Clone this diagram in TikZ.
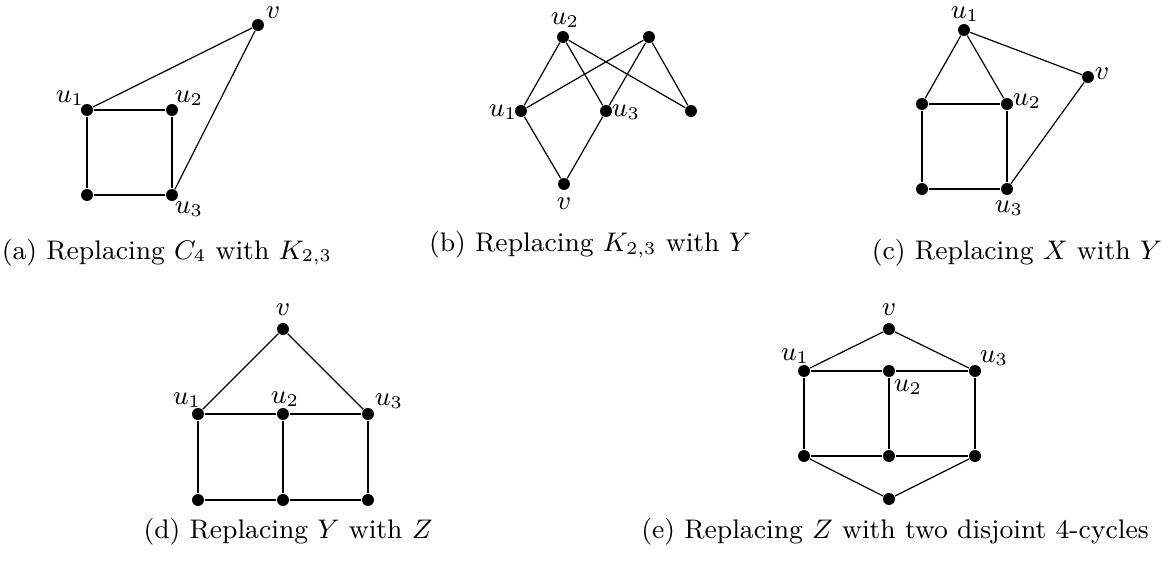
\documentclass[tikz,border=0pt]{standalone}
\begin{document}
\begin{tikzpicture}[x=0.33474pt,y=-0.33474pt,
  vtx/.style={circle,fill=black,inner sep=0pt,minimum size=4pt},
  edge/.style={line width=0.4pt},
  lab/.style={inner sep=0pt,font=\small},
  captxt/.style={inner sep=0pt,font=\small,anchor=base}]
\useasboundingbox (0,0) rectangle (1162,561);
% ---------- (a)
\node[vtx] (av) at (258,25) {};
\node[vtx] (au1) at (87,110) {};
\node[vtx] (au2) at (172,110) {};
\node[vtx] (abl) at (87,195) {};
\node[vtx] (au3) at (172,195) {};
\draw[edge] (au1) -- (au2) -- (au3) -- (abl) -- (au1);
\draw[edge] (au1) -- (av) -- (au3);
\node[lab] (lav) at (273,13) {$v$};
\node[lab] (lau1) at (70,98) {$u_1$};
\node[lab] (lau2) at (189,98) {$u_2$};
\node[lab] (lau3) at (189,209) {$u_3$};
\node[captxt] (capa) at (167,259) {(a) Replacing $C_4$ with $K_{2,3}$};
% ---------- (b)
\node[vtx] (bu2) at (563,37) {};
\node[vtx] (btr) at (649,37) {};
\node[vtx] (bu1) at (521,111) {};
\node[vtx] (bu3) at (606,111) {};
\node[vtx] (brt) at (691,111) {};
\node[vtx] (bv) at (564,184) {};
\draw[edge] (bu2) -- (bu1); \draw[edge] (bu2) -- (bu3); \draw[edge] (bu2) -- (brt);
\draw[edge] (btr) -- (bu1); \draw[edge] (btr) -- (bu3); \draw[edge] (btr) -- (brt);
\draw[edge] (bu1) -- (bv) -- (bu3);
\node[lab] (lbu2) at (565,20) {$u_2$};
\node[lab] (lbu1) at (503,112) {$u_1$};
\node[lab] (lbu3) at (626,112) {$u_3$};
\node[lab] (lbv) at (564,204) {$v$};
\node[captxt] (capb) at (590,252) {(b) Replacing $K_{2,3}$ with $Y$};
% ---------- (c)
\node[vtx] (cu1) at (964,30) {};
\node[vtx] (cv) at (1088,77) {};
\node[vtx] (cl) at (922,104) {};
\node[vtx] (cu2) at (1007,104) {};
\node[vtx] (cbl) at (922,189) {};
\node[vtx] (cu3) at (1007,189) {};
\draw[edge] (cu1) -- (cl); \draw[edge] (cu1) -- (cu2); \draw[edge] (cu1) -- (cv);
\draw[edge] (cl) -- (cu2) -- (cu3) -- (cbl) -- (cl);
\draw[edge] (cv) -- (cu3);
\node[lab] (lcu1) at (965,14) {$u_1$};
\node[lab] (lcv) at (1102,74) {$v$};
\node[lab] (lcu2) at (1027,101) {$u_2$};
\node[lab] (lcu3) at (1009,208) {$u_3$};
\node[captxt] (capc) at (1017,259) {(c) Replacing $X$ with $Y$};
% ---------- (d)
\node[vtx] (dv) at (283,329) {};
\node[vtx] (du1) at (198,414) {};
\node[vtx] (du2) at (283,414) {};
\node[vtx] (du3) at (368,414) {};
\node[vtx] (db1) at (198,500) {};
\node[vtx] (db2) at (283,500) {};
\node[vtx] (db3) at (368,500) {};
\draw[edge] (du1) -- (dv) -- (du3);
\draw[edge] (du1) -- (du2) -- (du3) -- (db3) -- (db2) -- (db1) -- (du1);
\draw[edge] (du2) -- (db2);
\node[lab] (ldv) at (283,310) {$v$};
\node[lab] (ldu1) at (187,400) {$u_1$};
\node[lab] (ldu2) at (285,399) {$u_2$};
\node[lab] (ldu3) at (389,401) {$u_3$};
\node[captxt] (capd) at (288,538) {(d) Replacing $Y$ with $Z$};
% ---------- (e)
\node[vtx] (ev) at (889,329) {};
\node[vtx] (eu1) at (804,371) {};
\node[vtx] (eu2) at (889,371) {};
\node[vtx] (eu3) at (975,371) {};
\node[vtx] (eb1) at (804,456) {};
\node[vtx] (eb2) at (889,456) {};
\node[vtx] (eb3) at (975,456) {};
\node[vtx] (ebt) at (889,499) {};
\draw[edge] (eu1) -- (ev) -- (eu3);
\draw[edge] (eu1) -- (eu2) -- (eu3) -- (eb3) -- (eb2) -- (eb1) -- (eu1);
\draw[edge] (eu2) -- (eb2);
\draw[edge] (eb1) -- (ebt) -- (eb3);
\node[lab] (lev) at (889,310) {$v$};
\node[lab] (leu1) at (795,356) {$u_1$};
\node[lab] (leu2) at (908,387) {$u_2$};
\node[lab] (leu3) at (994,358) {$u_3$};
\node[captxt] (cape) at (895,538) {(e) Replacing $Z$ with two disjoint 4-cycles};
\end{tikzpicture}
\end{document}
